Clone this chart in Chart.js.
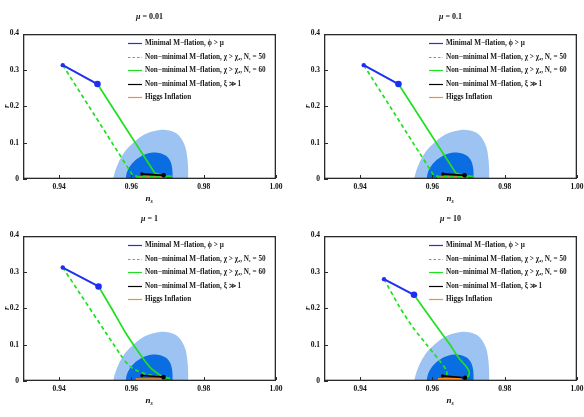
<!DOCTYPE html>
<html>
<head>
<meta charset="utf-8">
<script src="https://cdn.jsdelivr.net/npm/chart.js@4.4.1/dist/chart.umd.min.js"></script>
<style>
  html, body { margin: 0; padding: 0; background: #fff; overflow: hidden; }
  #wrap { position: relative; width: 584px; height: 417px; overflow: hidden; }
  canvas { position: absolute; }
</style>
</head>
<body>
<div id="wrap">
  <canvas id="p0" width="290" height="208" style="left:0;top:0"></canvas>
  <canvas id="p1" width="290" height="208" style="left:301px;top:0"></canvas>
  <canvas id="p2" width="290" height="208" style="left:0;top:202px"></canvas>
  <canvas id="p3" width="290" height="208" style="left:301px;top:202px"></canvas>
</div>
<script>
const muValues = ['0.01', '0.1', '1', '10'];

const xTickValues = [0.94, 0.96, 0.98, 1.00];
const xTickLabels = ['0.94', '0.96', '0.98', '1.00'];
const yTickValues = [0, 0.1, 0.2, 0.3, 0.4];
const yTickLabels = ['0', '0.1', '0.2', '0.3', '0.4'];

const seriesLabels = [
    'Minimal M\u2212flation, \u03d5 > \u03bc',
    'Non\u2212minimal M\u2212flation, \u03c7 > \u03c7\u2084, N\u2091 = 50',
    'Non\u2212minimal M\u2212flation, \u03c7 > \u03c7\u2084, N\u2091 = 60',
    'Non\u2212minimal M\u2212flation, \u03be \u226b 1',
    'Higgs Inflation'
];

// Planck contours (95% outer, 68% inner), same in every panel
const outerNs = [0.9549, 0.9556, 0.9569, 0.9585, 0.9605, 0.9630, 0.9655, 0.9680, 0.9705, 0.9725, 0.9740, 0.9750, 0.9755, 0.9757, 0.9757];
const outerR = [0, 0.025, 0.055, 0.080, 0.100, 0.119, 0.130, 0.135, 0.133, 0.125, 0.108, 0.085, 0.055, 0.025, 0];
const innerNs = [0.9584, 0.9588, 0.9598, 0.9615, 0.9635, 0.9660, 0.9680, 0.9697, 0.9708, 0.9713, 0.9714];
const innerR = [0, 0.020, 0.038, 0.055, 0.067, 0.073, 0.071, 0.063, 0.048, 0.028, 0];

// one row per panel (mu = 0.01, 0.1, 1, 10)
const minimalNs = [[0.9410, 0.9506], [0.9410, 0.9506], [0.9410, 0.9509], [0.9466, 0.9549]];
const minimalR = [[0.313, 0.261], [0.313, 0.261], [0.312, 0.260], [0.280, 0.237]];

const ne50Ns = [
    [0.9410, 0.9603, 0.9618, 0.9705],
    [0.9410, 0.9603, 0.9618, 0.9705],
    [0.9410, 0.9570, 0.9592, 0.9610, 0.9635, 0.9670, 0.9707],
    [0.9466, 0.9510, 0.9547, 0.9584, 0.9621, 0.9638, 0.9640, 0.9633]
];
const ne50R = [
    [0.313, 0.011, 0.0065, 0.0055],
    [0.313, 0.011, 0.0065, 0.0055],
    [0.312, 0.072, 0.044, 0.031, 0.021, 0.013, 0.007],
    [0.280, 0.202, 0.146, 0.100, 0.054, 0.031, 0.018, 0.012]
];

const ne60Ns = [
    [0.9506, 0.9665, 0.9690, 0.9712],
    [0.9506, 0.9665, 0.9690, 0.9712],
    [0.9509, 0.9546, 0.9583, 0.9620, 0.9652, 0.9675, 0.9693, 0.9707],
    [0.9549, 0.9600, 0.9645, 0.9674, 0.9695, 0.9702, 0.9699, 0.9690]
];
const ne60R = [
    [0.261, 0.016, 0.009, 0.007],
    [0.261, 0.016, 0.009, 0.007],
    [0.260, 0.198, 0.134, 0.079, 0.037, 0.019, 0.010, 0.007],
    [0.237, 0.166, 0.105, 0.062, 0.038, 0.024, 0.013, 0.008]
];

const xiNs = [[0.9629, 0.9689], [0.9629, 0.9689], [0.9629, 0.9689], [0.9628, 0.9690]];
const xiR = [[0.014, 0.010], [0.014, 0.010], [0.015, 0.011], [0.014, 0.009]];

const higgsNs = [[0.9613, 0.9689], [0.9613, 0.9689], [0.9612, 0.9684], [0.9615, 0.9681]];
const higgsR = [[0.0036, 0.0036], [0.0036, 0.0036], [0.0035, 0.0035], [0.0040, 0.0040]];

const blue = '#1f2ff0';
const green = '#1ee01e';
const orange = '#ff8c1e';
const lightBlue = '#9cc3f1';
const darkBlue = '#0b6de2';
const serif = "'Liberation Serif', 'DejaVu Serif', serif";

function pts(xs, ys) {
    return xs.map((v, k) => ({ x: v, y: ys[k] }));
}

function buildDatasets(i) {
    const tension = i >= 2 ? 0.25 : 0;
    return [
        { label: seriesLabels[0], legendRank: 0, data: pts(minimalNs[i], minimalR[i]), showLine: true,
          borderColor: blue, borderWidth: 2, pointRadius: [2.2, 3.3], pointBackgroundColor: blue, pointBorderWidth: 0 },
        { label: seriesLabels[3], legendRank: 3, data: pts(xiNs[i], xiR[i]), showLine: true,
          borderColor: '#000', borderWidth: 1.6, pointRadius: [1.6, 2.3], pointBackgroundColor: '#000', pointBorderWidth: 0 },
        { label: seriesLabels[2], legendRank: 2, data: pts(ne60Ns[i], ne60R[i]), showLine: true,
          borderColor: green, borderWidth: 1.7, pointRadius: 0, tension: tension },
        { label: seriesLabels[1], legendRank: 1, data: pts(ne50Ns[i], ne50R[i]), showLine: true,
          borderColor: green, borderWidth: 1.7, borderDash: [4, 3], pointRadius: 0, tension: tension },
        { label: seriesLabels[4], legendRank: 4, data: pts(higgsNs[i], higgsR[i]), showLine: true,
          borderColor: orange, borderWidth: 3, pointRadius: 0 },
        { label: '68%', data: pts(innerNs, innerR), showLine: true, fill: 'shape',
          backgroundColor: darkBlue, borderColor: darkBlue, borderWidth: 0, pointRadius: 0, tension: 0.3 },
        { label: '95%', data: pts(outerNs, outerR), showLine: true, fill: 'shape',
          backgroundColor: lightBlue, borderColor: lightBlue, borderWidth: 0, pointRadius: 0, tension: 0.3 }
    ];
}

const panelDecor = {
    id: 'panelDecor',
    afterDraw(chart) {
        const { ctx, chartArea: a, scales: { x, y } } = chart;
        const mu = chart.options.plugins.panelDecor.mu;
        ctx.save();
        ctx.setLineDash([]);
        ctx.globalAlpha = 1;

        // frame and inward ticks, as filled bars
        const L = Math.round(a.left), R = Math.round(a.right) - 1;
        const T = Math.round(a.top), B = Math.round(a.bottom) - 1;
        ctx.fillStyle = '#2a2a2a';
        ctx.fillRect(L, T, R - L + 1, 1.3);
        ctx.fillRect(L, B - 0.3, R - L + 1, 1.3);
        ctx.fillRect(L, T, 1.3, B - T + 1);
        ctx.fillRect(R - 0.3, T, 1.3, B - T + 1);
        xTickValues.forEach(v => {
            const px = Math.round(x.getPixelForValue(v));
            ctx.fillRect(px, B - 3, 1, 3);
        });
        yTickValues.forEach(v => {
            const py = Math.round(y.getPixelForValue(v));
            ctx.fillRect(L, py, 4, 1);
        });

        ctx.fillStyle = '#111';
        ctx.textBaseline = 'middle';

        // panel title: italic mu + value
        const cx = (a.left + a.right) / 2;
        ctx.font = 'italic bold 8px ' + serif;
        const w1 = ctx.measureText('\u03bc').width;
        ctx.font = 'bold 8px ' + serif;
        const rest = ' = ' + mu;
        const w2 = ctx.measureText(rest).width;
        const tx = cx - (w1 + w2) / 2;
        ctx.textAlign = 'left';
        ctx.font = 'italic bold 8px ' + serif;
        ctx.fillText('\u03bc', tx, 17);
        ctx.font = 'bold 8px ' + serif;
        ctx.fillText(rest, tx + w1, 17);

        // x axis title n_s
        ctx.font = 'italic bold 9px ' + serif;
        const wn = ctx.measureText('n').width;
        ctx.fillText('n', cx - wn / 2 - 1.5, 199);
        ctx.font = 'italic bold 6px ' + serif;
        ctx.fillText('s', cx + wn / 2 - 1.5, 201.5);

        // y axis title r
        ctx.save();
        ctx.translate(7, (a.top + a.bottom) / 2);
        ctx.rotate(-Math.PI / 2);
        ctx.textAlign = 'center';
        ctx.font = 'italic bold 9px ' + serif;
        ctx.fillText('r', 0, 0);
        ctx.restore();

        // legend inside the frame
        const items = chart.data.datasets
            .filter(d => d.legendRank !== undefined)
            .sort((p, q) => p.legendRank - q.legendRank);
        ctx.font = 'bold 7.2px ' + serif;
        ctx.textAlign = 'left';
        items.forEach((d, k) => {
            const ly = Math.round(a.top + 9.5 + k * 13.6) + 0.5;
            ctx.strokeStyle = d.borderColor;
            ctx.lineWidth = 1.2;
            ctx.setLineDash(d.borderDash ? [2.5, 2] : []);
            ctx.beginPath();
            ctx.moveTo(a.left + 105, ly);
            ctx.lineTo(a.left + 119, ly);
            ctx.stroke();
            ctx.setLineDash([]);
            ctx.fillStyle = '#1a1a1a';
            ctx.fillText(d.label, a.left + 122, ly);
        });
        ctx.restore();
    }
};

function makePanel(i) {
    const tickFont = { family: serif, size: 7.5, weight: 'bold' };
    new Chart(document.getElementById('p' + i), {
        type: 'scatter',
        data: { datasets: buildDatasets(i) },
        plugins: [panelDecor],
        options: {
            responsive: false,
            animation: false,
            layout: { padding: { top: 33.5, right: 14, bottom: 0, left: 0 } },
            plugins: {
                legend: { display: false },
                tooltip: { enabled: false },
                panelDecor: { mu: muValues[i] }
            },
            scales: {
                x: {
                    type: 'linear', min: 0.93, max: 1.00,
                    afterBuildTicks: s => { s.ticks = xTickValues.map(v => ({ value: v })); },
                    afterFit: s => { s.height = 29; },
                    grid: { display: false, drawTicks: false },
                    border: { display: false },
                    ticks: {
                        autoSkip: false, maxRotation: 0, padding: 4, color: '#111', font: tickFont,
                        callback: v => xTickLabels[xTickValues.indexOf(v)]
                    }
                },
                y: {
                    type: 'linear', min: 0, max: 0.4,
                    afterBuildTicks: s => { s.ticks = yTickValues.map(v => ({ value: v })); },
                    afterFit: s => { s.width = 23; },
                    grid: { display: false, drawTicks: false },
                    border: { display: false },
                    ticks: {
                        autoSkip: false, padding: 4, color: '#111', font: tickFont,
                        callback: v => yTickLabels[yTickValues.indexOf(v)]
                    }
                }
            }
        }
    });
}

[0, 1, 2, 3].forEach(makePanel);
</script>
</body>
</html>
